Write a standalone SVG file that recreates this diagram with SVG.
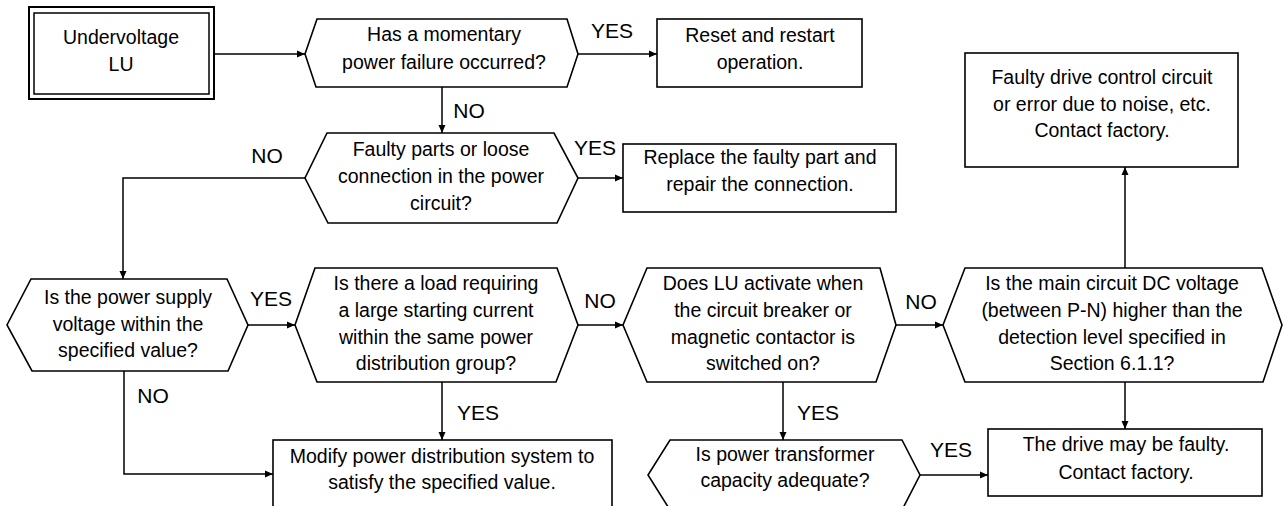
<svg xmlns="http://www.w3.org/2000/svg" width="1283" height="506" viewBox="0 0 1283 506">
<defs>
<marker id="arr" markerUnits="userSpaceOnUse" markerWidth="10" markerHeight="8" refX="8" refY="4" orient="auto">
<path d="M0,0.5 L8,4 L0,7.5 Z" fill="#000"/>
</marker>
<style>
.s{fill:#fff;stroke:#000;stroke-width:1.6}
.t{font-family:"Liberation Sans",Arial,Helvetica,sans-serif;font-size:19.5px;text-anchor:middle;fill:#000}
.l{font-family:"Liberation Sans",Arial,Helvetica,sans-serif;font-size:21px;text-anchor:middle;fill:#000}
.c{fill:none;stroke:#000;stroke-width:1.5;marker-end:url(#arr)}
</style>
</defs>
<rect width="1283" height="506" fill="#fff"/>
<g id="connectors">
<path class="c" d="M214,54 H305"/>
<path class="c" d="M578,54 H657"/>
<path class="c" d="M442,87 V133"/>
<path class="c" d="M578,178 H623"/>
<path class="c" d="M305,178 H123 V279"/>
<path class="c" d="M248,325 H295"/>
<path class="c" d="M124,371 V474 H273"/>
<path class="c" d="M578,325 H623"/>
<path class="c" d="M442,382 V440"/>
<path class="c" d="M896,325 H943"/>
<path class="c" d="M783,382 V440"/>
<path class="c" d="M1125,268 V167"/>
<path class="c" d="M1125,382 V429"/>
<path class="c" d="M920,475 H988"/>
</g>
<g id="labels">
<text class="l" x="612" y="38">YES</text>
<text class="l" x="469" y="118">NO</text>
<text class="l" x="595" y="155">YES</text>
<text class="l" x="267" y="163">NO</text>
<text class="l" x="271" y="306">YES</text>
<text class="l" x="600" y="308">NO</text>
<text class="l" x="921" y="309">NO</text>
<text class="l" x="153" y="403">NO</text>
<text class="l" x="478" y="420">YES</text>
<text class="l" x="818" y="420">YES</text>
<text class="l" x="951" y="457">YES</text>
</g>
<g id="start">
<rect x="29" y="7" width="185" height="92" fill="#fff" stroke="#000" stroke-width="2"/>
<rect x="34" y="13" width="175" height="81" fill="none" stroke="#000" stroke-width="1.5"/>
<text class="t" x="121" y="44">Undervoltage</text>
<text class="t" x="121" y="71">LU</text>
</g>
<g id="d1">
<polygon class="s" points="317,19 567,19 578,54 567,87 316,87 305,54"/>
<text class="t" x="444" y="41">Has a momentary</text>
<text class="t" x="444" y="69">power failure occurred?</text>
</g>
<g id="reset">
<rect class="s" x="657" y="19" width="205" height="68"/>
<text class="t" x="760" y="42">Reset and restart</text>
<text class="t" x="760" y="69">operation.</text>
</g>
<g id="d2">
<polygon class="s" points="327,133 554,133 578,178 557,223 328,223 305,178"/>
<text class="t" x="441" y="156">Faulty parts or loose</text>
<text class="t" x="441" y="183">connection in the power</text>
<text class="t" x="441" y="210">circuit?</text>
</g>
<g id="replace">
<rect class="s" x="623" y="144" width="273" height="68"/>
<text class="t" x="760" y="164">Replace the faulty part and</text>
<text class="t" x="760" y="191">repair the connection.</text>
</g>
<g id="d3">
<polygon class="s" points="31,279 227,279 248,325 228,371 32,371 7,325"/>
<text class="t" x="128" y="304">Is the power supply</text>
<text class="t" x="128" y="331">voltage within the</text>
<text class="t" x="128" y="357">specified value?</text>
</g>
<g id="d4">
<polygon class="s" points="315,268 557,268 578,325 556,382 317,382 295,325"/>
<text class="t" x="436" y="290">Is there a load requiring</text>
<text class="t" x="436" y="317">a large starting current</text>
<text class="t" x="436" y="344">within the same power</text>
<text class="t" x="436" y="370">distribution group?</text>
</g>
<g id="d5">
<polygon class="s" points="647,268 880,268 896,325 876,382 647,382 623,325"/>
<text class="t" x="763" y="290">Does LU activate when</text>
<text class="t" x="763" y="317">the circuit breaker or</text>
<text class="t" x="763" y="344">magnetic contactor is</text>
<text class="t" x="763" y="370">switched on?</text>
</g>
<g id="d6">
<polygon class="s" points="965,268 1262,268 1282,325 1263,382 965,382 943,325"/>
<text class="t" x="1112" y="290">Is the main circuit DC voltage</text>
<text class="t" x="1112" y="317">(between P-N) higher than the</text>
<text class="t" x="1112" y="344">detection level specified in</text>
<text class="t" x="1112" y="370">Section 6.1.1?</text>
</g>
<g id="faulty">
<rect class="s" x="965" y="53" width="273" height="114"/>
<text class="t" x="1102" y="84">Faulty drive control circuit</text>
<text class="t" x="1102" y="111">or error due to noise, etc.</text>
<text class="t" x="1102" y="137">Contact factory.</text>
</g>
<g id="modify">
<rect class="s" x="273" y="440" width="339" height="80"/>
<text class="t" x="442" y="463">Modify power distribution system to</text>
<text class="t" x="442" y="489">satisfy the specified value.</text>
</g>
<g id="d7">
<polygon class="s" points="670,440 902,440 920,475 902,510 670,510 648,475"/>
<text class="t" x="785" y="461">Is power transformer</text>
<text class="t" x="785" y="487">capacity adequate?</text>
</g>
<g id="drive">
<rect class="s" x="988" y="429" width="274" height="67"/>
<text class="t" x="1126" y="451">The drive may be faulty.</text>
<text class="t" x="1126" y="479">Contact factory.</text>
</g>
</svg>
